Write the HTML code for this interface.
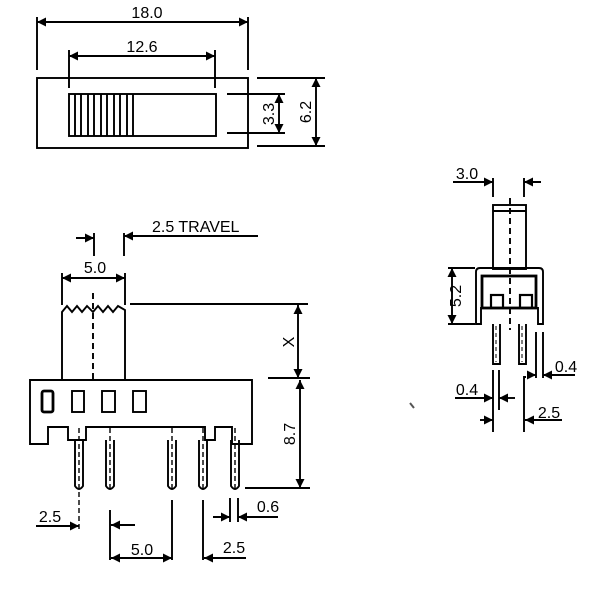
<!DOCTYPE html>
<html><head><meta charset="utf-8"><style>
html,body{margin:0;padding:0;background:#fff;}
svg{display:block;}
text{font-family:"Liberation Sans",sans-serif;font-size:16px;fill:#000;}
</style></head><body>
<svg width="600" height="592" viewBox="0 0 600 592" xmlns="http://www.w3.org/2000/svg">
<defs>
<marker id="a" viewBox="0 0 10 10" refX="10" refY="5" markerWidth="11" markerHeight="9" markerUnits="userSpaceOnUse" orient="auto-start-reverse"><path d="M0,0 L10,5 L0,10 z" fill="#000"/></marker>
</defs>
<g stroke="#000" stroke-width="1.9" fill="none">
<rect x="37" y="78" width="211" height="70"/>
<rect x="69" y="94" width="147" height="42"/>
<path d="M75,94V136M81,94V136M88,94V136M94,94V136M101,94V136M107,94V136M114,94V136M120,94V136M127,94V136M133,94V136"/>
<path d="M37,17V70M248,17V70M69,50V88M215,50V88"/>
<line x1="37" y1="22" x2="248" y2="22" marker-start="url(#a)" marker-end="url(#a)"/>
<line x1="69" y1="56" x2="215" y2="56" marker-start="url(#a)" marker-end="url(#a)"/>
<path d="M257,78H325M257,146H325M227,94H285M227,133H285"/>
<line x1="316" y1="78" x2="316" y2="146" marker-start="url(#a)" marker-end="url(#a)"/>
<line x1="279" y1="94" x2="279" y2="133" marker-start="url(#a)" marker-end="url(#a)"/>

<path d="M94,233V256M124,233V256M62,273V305M125,273V305"/>
<line x1="258" y1="236" x2="124" y2="236" marker-end="url(#a)"/>
<line x1="76" y1="238" x2="94" y2="238" marker-end="url(#a)"/>
<line x1="62" y1="278" x2="125" y2="278" marker-start="url(#a)" marker-end="url(#a)"/>
<path d="M62,380V312L67,306L72,312L77,306L82,312L87,306L93,312L98,306L103,312L108,306L113,312L118,306L125,310V380"/>
<path d="M93,293V383" stroke-dasharray="6,4"/>
<path d="M130,304H308M268,378H310M245,488H310"/>
<line x1="298" y1="305" x2="298" y2="378" marker-start="url(#a)" marker-end="url(#a)"/>
<line x1="300" y1="380" x2="300" y2="488" marker-start="url(#a)" marker-end="url(#a)"/>
<path d="M30,380H252V444H232V427H215V440H205V427H86V440H68V427H48V444H30Z"/>
<rect x="42" y="391" width="11" height="21" rx="2" stroke-width="2.8"/>
<rect x="72" y="391" width="12" height="21"/>
<rect x="102" y="391" width="13" height="21"/>
<rect x="133" y="391" width="13" height="21"/>
<path d="M75,440V486Q79,492 83,486V440M106,440V486Q110,492 114,486V440M168,440V486Q172,492 176,486V440M199,440V486Q203,492 207,486V440M231,440V486Q235,492 239,486V440"/>
<path d="M79,428V530M110,428V490M172,428V490M203,428V490M235,428V490" stroke-dasharray="5,3" stroke-width="1.4"/>
<path d="M110,510V560M172,500V560M203,500V560M230,498V522M238,498V522"/>
<line x1="36" y1="526" x2="79" y2="526" marker-end="url(#a)"/>
<line x1="135" y1="525" x2="111" y2="525" marker-end="url(#a)"/>
<line x1="111" y1="558" x2="172" y2="558" marker-start="url(#a)" marker-end="url(#a)"/>
<line x1="246" y1="558" x2="204" y2="558" marker-end="url(#a)"/>
<line x1="213" y1="517" x2="230" y2="517" marker-end="url(#a)"/>
<line x1="278" y1="517" x2="238" y2="517" marker-end="url(#a)"/>

<path d="M493,178V197M524,178V197"/>
<line x1="453" y1="182" x2="493" y2="182" marker-end="url(#a)"/>
<line x1="541" y1="182" x2="524" y2="182" marker-end="url(#a)"/>
<rect x="493" y="205" width="33" height="64"/>
<path d="M493,211H526"/>
<path d="M510,198V330" stroke-dasharray="6,4"/>
<path d="M476,324V272Q476,268 480,268H539Q543,268 543,272V324H538V308H481V324Z"/>
<rect x="482" y="276" width="54" height="32" stroke-width="2.8"/>
<rect x="491" y="295" width="12" height="13" stroke-width="2.2"/>
<rect x="520" y="295" width="12" height="13" stroke-width="2.2"/>
<path d="M448,268H475M448,324H475"/>
<line x1="452" y1="268" x2="452" y2="324" marker-start="url(#a)" marker-end="url(#a)"/>
<path d="M493,324V364H500V324M519,324V364H526V324"/>
<path d="M496,326V362M522,326V362" stroke-dasharray="4,3" stroke-width="1"/>
<path d="M536,332V378M543,332V378M526,377H524V432M493,370V432M499,370V410"/>
<line x1="527" y1="375" x2="536" y2="375" marker-end="url(#a)"/>
<line x1="575" y1="375" x2="543" y2="375" marker-end="url(#a)"/>
<line x1="455" y1="398" x2="493" y2="398" marker-end="url(#a)"/>
<line x1="515" y1="398" x2="499" y2="398" marker-end="url(#a)"/>
<line x1="480" y1="420" x2="493" y2="420" marker-end="url(#a)"/>
<line x1="562" y1="420" x2="525" y2="420" marker-end="url(#a)"/>
<path d="M410,403L414,408" stroke-width="2" stroke="#555"/>
</g>
<text x="147" y="18" text-anchor="middle">18.0</text>
<text x="142" y="52" text-anchor="middle">12.6</text>
<text transform="translate(311,112) rotate(-90)" text-anchor="middle">6.2</text>
<text transform="translate(274,114) rotate(-90)" text-anchor="middle">3.3</text>
<text x="152" y="232">2.5 TRAVEL</text>
<text x="95" y="273" text-anchor="middle">5.0</text>
<text transform="translate(294,342) rotate(-90)" text-anchor="middle">X</text>
<text transform="translate(295,434) rotate(-90)" text-anchor="middle">8.7</text>
<text x="50" y="522" text-anchor="middle">2.5</text>
<text x="142" y="555" text-anchor="middle">5.0</text>
<text x="234" y="553" text-anchor="middle">2.5</text>
<text x="268" y="512" text-anchor="middle">0.6</text>
<text x="467" y="179" text-anchor="middle">3.0</text>
<text transform="translate(461,296) rotate(-90)" text-anchor="middle">5.2</text>
<text x="566" y="372" text-anchor="middle">0.4</text>
<text x="467" y="395" text-anchor="middle">0.4</text>
<text x="549" y="418" text-anchor="middle">2.5</text>
</svg>
</body></html>
